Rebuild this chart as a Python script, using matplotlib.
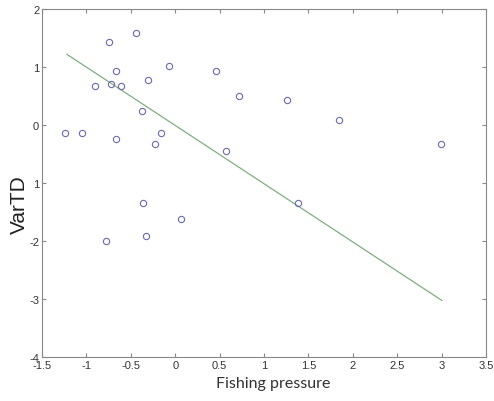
import matplotlib.pyplot as plt
import numpy as np

# scatter data
fishing = [-0.445, -0.749, -0.67, -0.07, 0.463, -0.90, -0.72, -0.614, -0.31, 0.715,
           -0.374, -1.24, -1.046, -0.663, -0.157, -0.224, 0.576, -0.366, 0.06, -0.78,
           -0.325, 1.255, 1.845, 2.997, 1.38]
vartd = [1.59, 1.44, 0.94, 1.01, 0.94, 0.67, 0.71, 0.67, 0.78, 0.50,
         0.24, -0.14, -0.13, -0.24, -0.14, -0.33, -0.45, -1.35, -1.62, -2.00,
         -1.91, 0.43, 0.09, -0.33, -1.34]

# fitted line end points
fit_x = [-1.22, 3.0]
fit_y = [1.22, -3.02]

xticks = [-1.5, -1, -0.5, 0, 0.5, 1, 1.5, 2, 2.5, 3, 3.5]
xtick_labels = ['-1.5', '-1', '-0.5', '0', '0.5', '1', '1.5', '2', '2.5', '3', '3.5']
yticks = [-4, -3, -2, -1, 0, 1, 2]
ytick_labels = ['-4', '-3', '-2', '1', '0', '1', '2']

fig = plt.figure(figsize=(4.94, 4.02), dpi=100)
ax = fig.add_axes([0.085, 0.109, 0.899, 0.866])

ax.plot(fit_x, fit_y, color='#7fae7f', lw=0.9)
ax.plot(fishing, vartd, 'o', mfc='none', mec='#6a6ab0', ms=4.5, mew=0.8)

ax.set_xlim(-1.5, 3.5)
ax.set_ylim(-4, 2)
ax.set_xticks(xticks)
ax.set_xticklabels(xtick_labels, family='Liberation Sans', fontsize=8, color='#333333')
ax.set_yticks(yticks)
ax.set_yticklabels(ytick_labels, family='Liberation Sans', fontsize=8, color='#333333')
ax.tick_params(direction='in', top=True, right=True, length=3, color='#888888', pad=2)
for s in ax.spines.values():
    s.set_color('#888888')
    s.set_linewidth(0.8)

ax.set_xlabel('Fishing pressure', family='Lato', fontsize=11.5, color='#333333')
ax.xaxis.set_label_coords(0.52, -0.055)
ax.set_ylabel('VarTD', family='Liberation Sans', fontsize=15, color='#222222')
ax.yaxis.set_label_coords(-0.03, 0.44)

fig.savefig('out.png', dpi=100)
